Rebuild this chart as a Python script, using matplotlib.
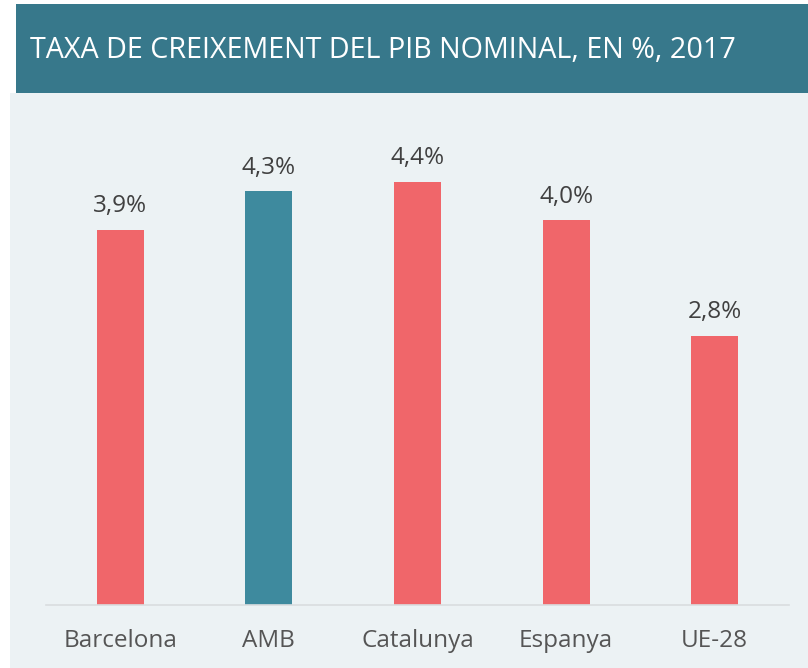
import matplotlib.pyplot as plt
from matplotlib.patches import Rectangle

categories = ["Barcelona", "AMB", "Catalunya", "Espanya", "UE-28"]
values = [3.9, 4.3, 4.4, 4.0, 2.8]
value_labels = ["3,9%", "4,3%", "4,4%", "4,0%", "2,8%"]
title = "TAXA DE CREIXEMENT DEL PIB NOMINAL, EN %, 2017"

coral = "#f0666a"
teal = "#3e8a9e"
colors = [teal if c == "AMB" else coral for c in categories]

plt.rcParams['font.family'] = ['Open Sans', 'DejaVu Sans']

W, H = 808, 668
fig = plt.figure(figsize=(W / 100, H / 100), dpi=100)
fig.patch.set_facecolor("white")

# light panel and header band (behind the axes)
fig.patches.append(Rectangle((10 / W, 0), 1, 1 - 93 / H, transform=fig.transFigure,
                             facecolor="#ecf2f4", edgecolor="none", zorder=-10))
fig.patches.append(Rectangle((16 / W, 1 - 93 / H), 1, 89 / H, transform=fig.transFigure,
                             facecolor="#37788b", edgecolor="none", zorder=-10))
fig.text(30 / W, 1 - 50 / H, title, color="white", fontsize=20.7,
         ha="left", va="center")

ax = fig.add_axes([46 / W, 1 - 605 / H, (789 - 46) / W, 480 / H])
ax.set_facecolor("none")
x = range(len(categories))
ax.bar(x, values, width=0.317, color=colors, zorder=2)
for xi, v, lab in zip(x, values, value_labels):
    ax.text(xi, v + 0.12, lab, ha="center", va="bottom", fontsize=17.5, color="#404040")

ax.set_xlim(-0.5, 4.5)
ax.set_ylim(0, 4.99)
ax.set_yticks([])
ax.set_xticks(list(x))
ax.set_xticklabels(categories, fontsize=17.5, color="#555555")
ax.tick_params(axis="x", length=0, pad=17)
for s in ["top", "right", "left"]:
    ax.spines[s].set_visible(False)
ax.spines["bottom"].set_color("#d9dddf")
ax.spines["bottom"].set_linewidth(1.2)

fig.savefig("out.png", dpi=100)
